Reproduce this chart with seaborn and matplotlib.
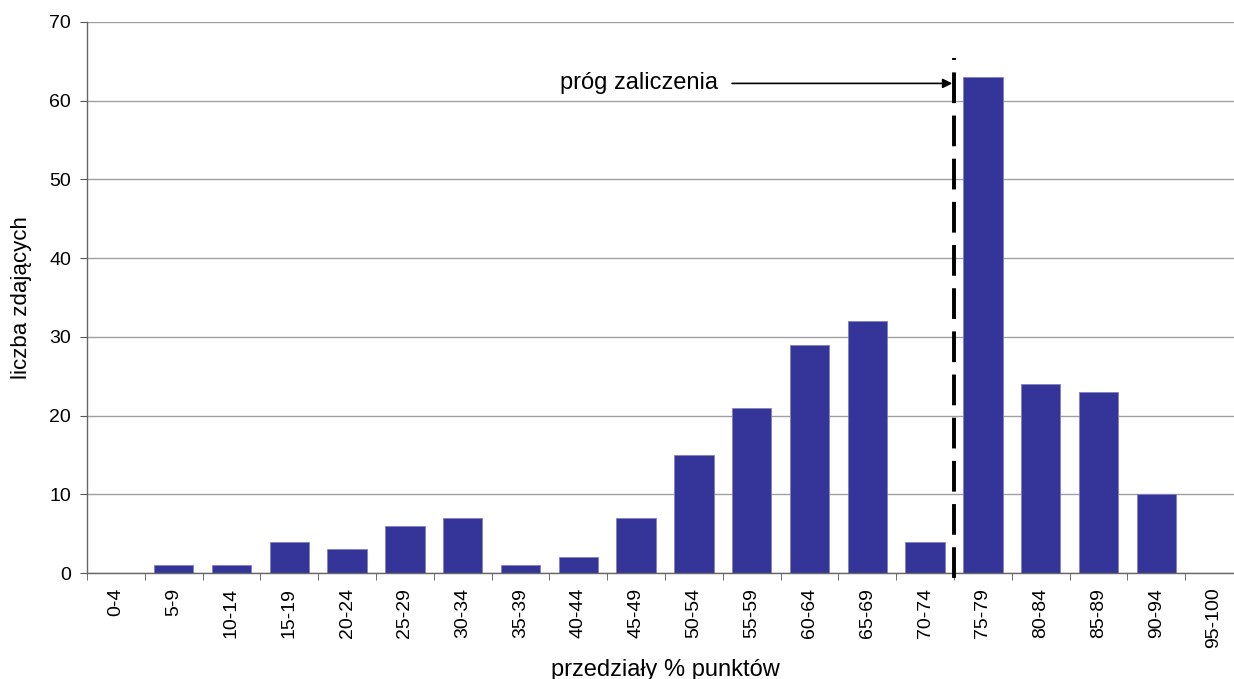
import matplotlib
matplotlib.use("Agg")
import matplotlib.pyplot as plt
import seaborn as sns

# --- Dane ---
przedzialy = ["0-4", "5-9", "10-14", "15-19", "20-24", "25-29", "30-34", "35-39",
              "40-44", "45-49", "50-54", "55-59", "60-64", "65-69", "70-74",
              "75-79", "80-84", "85-89", "90-94", "95-100"]
liczba = [0, 1, 1, 4, 3, 6, 7, 1, 2, 7, 15, 21, 29, 32, 4, 63, 24, 23, 10, 0]
prog_idx = 15          # pierwszy przedział zaliczony (75-79)
y_ticks = list(range(0, 71, 10))

sns.set_style("white")
plt.rcParams["font.family"] = ["Liberation Sans", "DejaVu Sans"]
plt.rcParams["text.color"] = "black"
plt.rcParams["axes.labelcolor"] = "black"
plt.rcParams["xtick.labelcolor"] = "black"
plt.rcParams["ytick.labelcolor"] = "black"

fig = plt.figure(figsize=(12.34, 6.79), dpi=100)
ax = fig.add_axes([0.0705, 0.156, 0.9368, 0.8116])

ax.yaxis.grid(True, color="#a0a0a0", linewidth=1)
ax.set_axisbelow(True)
sns.barplot(x=przedzialy, y=liczba, color="#353599", saturation=1,
            width=0.68, edgecolor="#8080c0", linewidth=0.6, ax=ax)

ax.set_xlim(-0.5, len(przedzialy) - 0.5)
ax.set_ylim(0, 70)
ax.set_yticks(y_ticks)
ax.tick_params(axis="y", labelsize=14, length=5, direction="out", color="#555555",
               left=True, pad=6.5)
ax.set_xticks(range(len(przedzialy)))
ax.set_xticklabels(przedzialy, rotation=90, fontsize=14)
ax.tick_params(axis="x", which="major", length=0, pad=10.5)
ax.set_xticks([i - 0.5 for i in range(len(przedzialy) + 1)], minor=True)
ax.tick_params(axis="x", which="minor", length=5, direction="out",
               color="#555555", bottom=True)

for s in ["top", "right"]:
    ax.spines[s].set_visible(False)
for s in ["left", "bottom"]:
    ax.spines[s].set_color("#666666")
    ax.spines[s].set_linewidth(1)

# --- Próg zaliczenia ---
x_prog = prog_idx - 0.5
ax.plot([x_prog, x_prog], [65.43, -1.78], color="black", linewidth=2.8,
        linestyle=(7.4, (7.9, 3.2)), dash_capstyle="butt",
        clip_on=False, zorder=5)
ax.annotate("", xy=(x_prog - 0.03, 62.2), xytext=(10.66, 62.2),
            arrowprops=dict(arrowstyle="-|>", color="black", lw=1.2,
                            mutation_scale=14, shrinkA=0, shrinkB=0))
ax.text(10.42, 62.2, "próg zaliczenia", ha="right", va="center", fontsize=17)

ax.set_ylabel("liczba zdających", fontsize=16)
ax.yaxis.set_label_coords(-0.0476, 0.5)
ax.set_xlabel("przedziały % punktów", fontsize=17)
ax.xaxis.set_label_coords(0.5, -0.156)

fig.savefig("out.png", dpi=100)
